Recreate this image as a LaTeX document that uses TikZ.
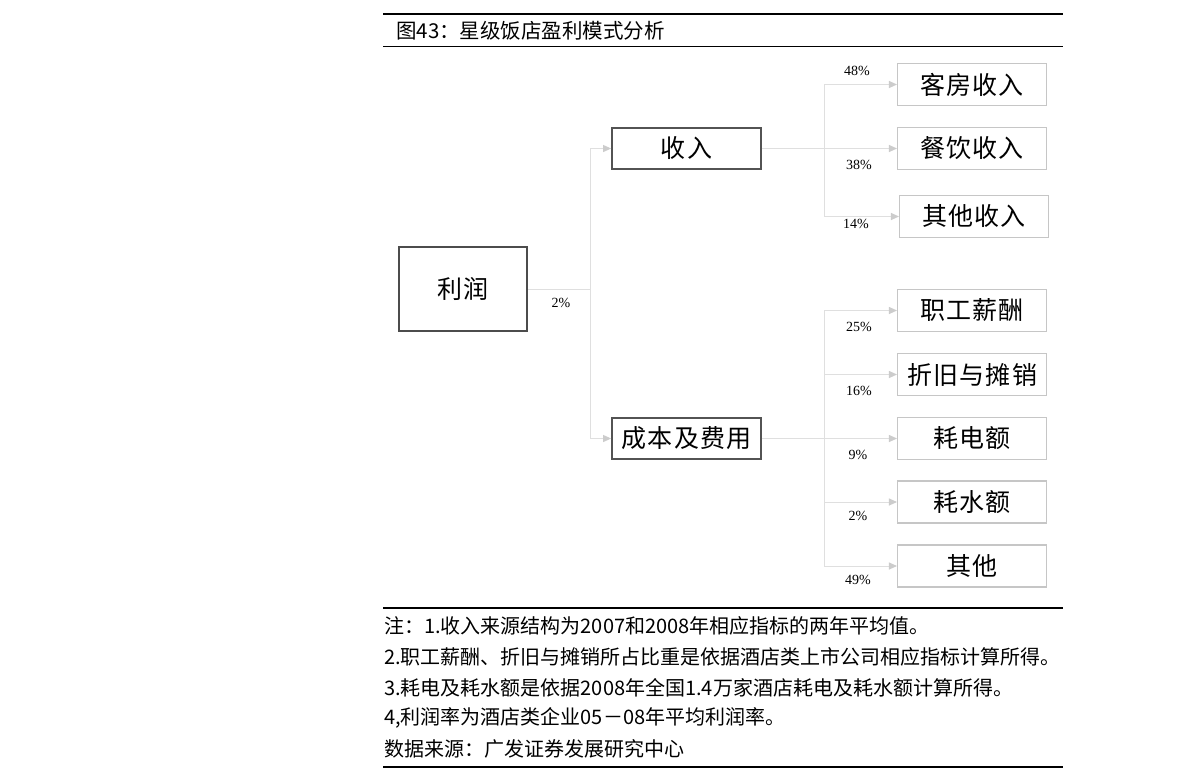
\documentclass[tikz,border=0pt]{standalone}
\usepackage{fontspec}
\setmainfont{Liberation Serif}
\newfontfamily\cjk{Noto Sans CJK SC}
\newfontfamily\cjkwide[LetterSpace=5]{Noto Sans CJK SC}
\usetikzlibrary{arrows.meta}

\begin{document}
\begin{tikzpicture}[
    x=1pt, y=-1pt,
    root/.style={draw=gray!60!black, line width=2.6pt, minimum width=128pt, minimum height=84pt, inner sep=0pt, font=\cjkwide\fontsize{25}{27}\selectfont},
    mid/.style={draw=gray!65!black, line width=1.8pt, minimum width=149pt, minimum height=41pt, inner sep=0pt, font=\cjkwide\fontsize{25}{27}\selectfont},
    leaf/.style={draw=gray!45, line width=1.1pt, minimum width=149pt, minimum height=42pt, inner sep=0pt, font=\cjkwide\fontsize{25}{27}\selectfont},
    edge/.style={draw=gray!25, line width=1pt, -{Triangle[length=8pt,width=7pt,color=gray!40,fill=gray!40]}},
    link/.style={draw=gray!25, line width=1pt},
    pct/.style={font=\fontsize{14}{16}\selectfont, inner sep=0pt},
    note/.style={anchor=west, inner sep=0pt, font=\cjk\fontsize{20}{22}\selectfont}
]
\useasboundingbox[fill=white] (0,0) rectangle (1191,780);

% ---- rules and caption ----
\draw[line width=2pt] (383,14) -- (1063,14);
\node[note, font=\cjk\fontsize{20.5}{22}\selectfont] (cap) at (396,31) {图43：星级饭店盈利模式分析};
\draw[line width=1pt] (383,46) -- (1063,46);

% ---- nodes ----
\node[root] (profit) at (463,289) {利润};
\node[mid] (income) at (686.5,148.5) {收入};
\node[mid] (cost) at (686.5,438.5) {成本及费用};

\node[leaf] (room) at (972,84.5) {客房收入};
\node[leaf] (food) at (972,148.5) {餐饮收入};
\node[leaf] (other) at (974,216.5) {其他收入};

\node[leaf] (staff) at (972,310.5) {职工薪酬};
\node[leaf] (depr) at (972,374.5) {折旧与摊销};
\node[leaf] (power) at (972,438.5) {耗电额};
\node[leaf] (water) at (972,502) {耗水额};
\node[leaf] (misc) at (972,566) {其他};

\coordinate (j1) at (590,289);
\coordinate (j2) at (824,148.5);
\coordinate (j3) at (824,438.5);

% ---- edges ----
\draw[link] (profit.east) -- (j1);
\draw[edge] (j1) |- (income.west);
\draw[edge] (j1) |- (cost.west);

\draw[link] (income.east) -- (j2);
\draw[edge] (j2) |- (room.west);
\draw[edge] (j2) -- (food.west);
\draw[edge] (j2) |- (other.west);

\draw[link] (cost.east) -- (j3);
\draw[edge] (j3) |- (staff.west);
\draw[edge] (j3) |- (depr.west);
\draw[edge] (j3) -- (power.west);
\draw[edge] (j3) |- (water.west);
\draw[edge] (j3) |- (misc.west);

% ---- percentages ----
\node[pct] (p0) at (561,303) {2\%};
\node[pct] (p1) at (857,71) {48\%};
\node[pct] (p2) at (859,165) {38\%};
\node[pct] (p3) at (856,224) {14\%};
\node[pct] (p4) at (859,327) {25\%};
\node[pct] (p5) at (859,391) {16\%};
\node[pct] (p6) at (858,455) {9\%};
\node[pct] (p7) at (858,516) {2\%};
\node[pct] (p8) at (858,580) {49\%};

% ---- notes ----
\draw[line width=1.4pt] (383,608) -- (1063,608);
\node[note] (n1) at (384,626) {注：1.收入来源结构为2007和2008年相应指标的两年平均值。};
\node[note] (n2) at (384,657) {2.职工薪酬、折旧与摊销所占比重是依据酒店类上市公司相应指标计算所得。};
\node[note] (n3) at (384,688) {3.耗电及耗水额是依据2008年全国1.4万家酒店耗电及耗水额计算所得。};
\node[note] (n4) at (384,718) {4,利润率为酒店类企业05－08年平均利润率。};
\node[note] (src) at (384,749) {数据来源：广发证券发展研究中心};
\draw[line width=2pt] (383,767) -- (1063,767);

\end{tikzpicture}
\end{document}
